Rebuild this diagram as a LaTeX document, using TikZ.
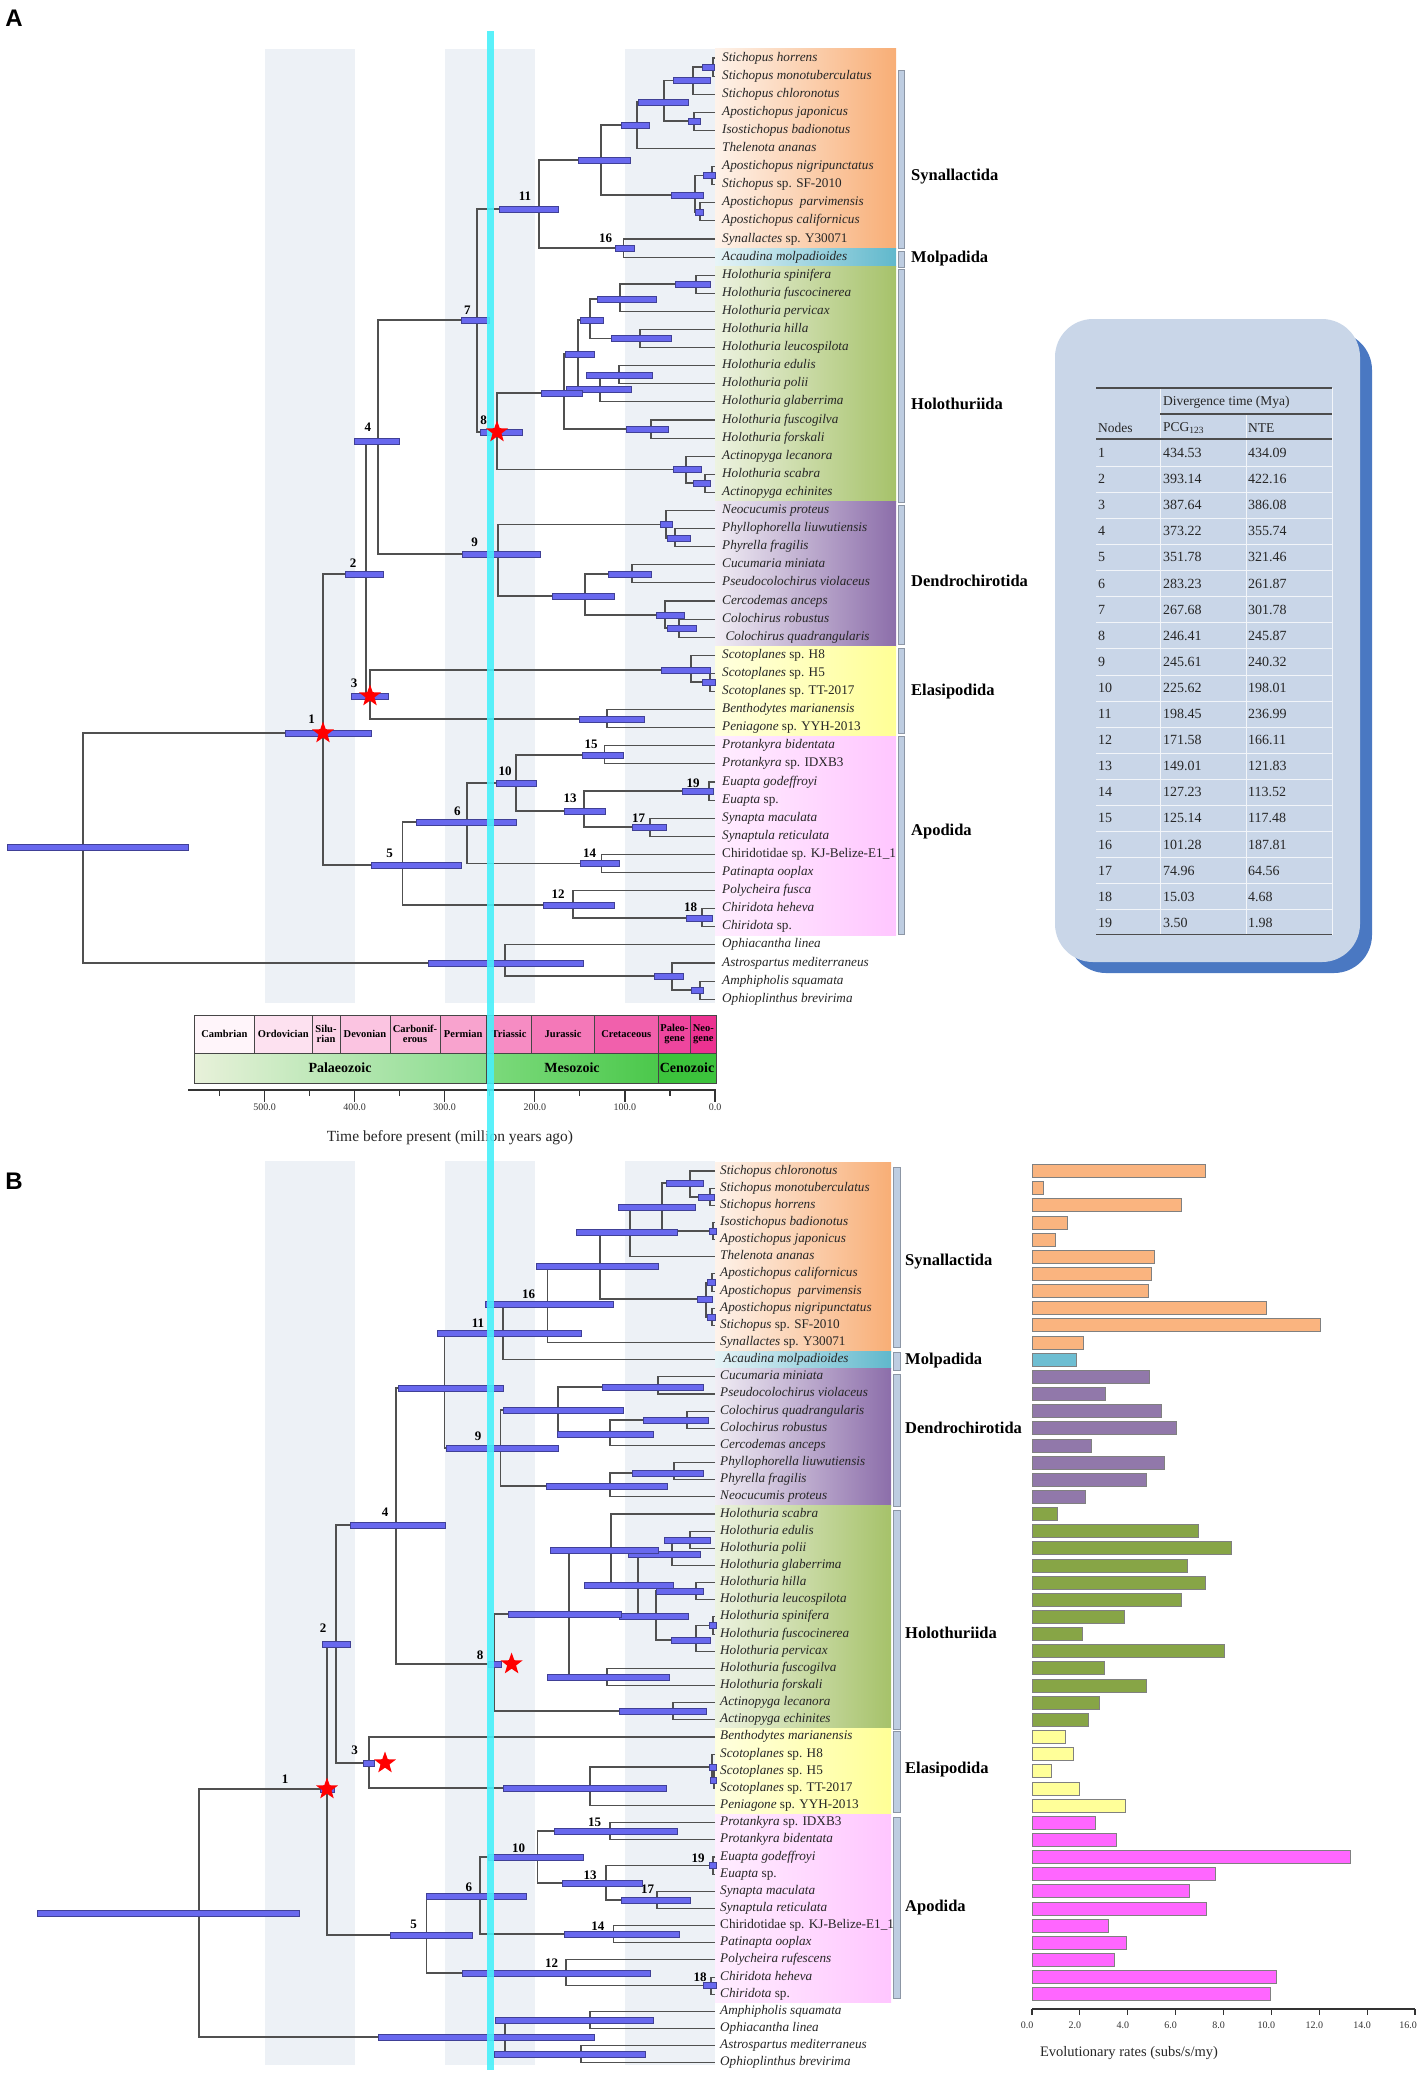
\documentclass[tikz,border=0pt]{standalone}
\usepackage{fontspec}
\setmainfont{Liberation Serif}
\newfontfamily\panelfont{Liberation Sans}
\usetikzlibrary{shapes.geometric}

\definecolor{treegray}{RGB}{80,80,80}
\definecolor{hpdblue}{RGB}{104,104,238}
\definecolor{hpdedge}{RGB}{64,64,150}
\definecolor{bandgray}{RGB}{237,241,246}
\definecolor{cyanline}{RGB}{72,240,250}
\definecolor{synC}{RGB}{248,174,118}
\definecolor{molC}{RGB}{96,184,204}
\definecolor{holC}{RGB}{166,194,106}
\definecolor{denC}{RGB}{140,110,170}
\definecolor{elaC}{RGB}{255,255,150}
\definecolor{apoC}{RGB}{255,198,255}
\definecolor{synbar}{RGB}{250,180,127}
\definecolor{molbar}{RGB}{110,190,210}
\definecolor{denbar}{RGB}{145,120,170}
\definecolor{holbar}{RGB}{135,165,70}
\definecolor{elabar}{RGB}{255,255,153}
\definecolor{apobar}{RGB}{255,102,255}
\definecolor{rateedge}{RGB}{128,128,128}
\definecolor{cladebarfill}{RGB}{190,205,225}
\definecolor{cladebaredge}{RGB}{140,150,165}
\definecolor{boxblue}{RGB}{201,214,232}
\definecolor{shadowblue}{RGB}{74,120,194}
\definecolor{cellborder}{RGB}{70,70,70}
\definecolor{per1}{RGB}{255,245,250}
\definecolor{per2}{RGB}{253,225,240}
\definecolor{per3}{RGB}{252,212,232}
\definecolor{per4}{RGB}{251,196,225}
\definecolor{per5}{RGB}{250,182,217}
\definecolor{per6}{RGB}{248,163,206}
\definecolor{per7}{RGB}{246,140,195}
\definecolor{per8}{RGB}{244,120,184}
\definecolor{per9}{RGB}{241,96,172}
\definecolor{per10}{RGB}{238,70,158}
\definecolor{per11}{RGB}{236,50,145}
\definecolor{paleoL}{RGB}{232,241,218}
\definecolor{paleoR}{RGB}{135,220,140}
\definecolor{mesoL}{RGB}{125,218,125}
\definecolor{mesoR}{RGB}{75,200,75}
\definecolor{cenoC}{RGB}{60,195,60}

\pgfdeclarelayer{bars}
\pgfdeclarelayer{front}
\pgfsetlayers{main,bars,front}

% name, x, y, first child, second child, HPD from, HPD to
\newcommand{\clade}[7]{%
  \coordinate (#1) at (#2,#3);
  \draw[branch] (#4) -| (#1) |- (#5);
  \begin{pgfonlayer}{bars}
    \draw[hpd] (#6,#3-3) rectangle (#7,#3+3);
  \end{pgfonlayer}
}

\begin{document}
\begin{tikzpicture}[x=1pt, y=-1pt,
    branch/.style={draw=treegray, line width=1.1},
    hpd/.style={fill=hpdblue, draw=hpdedge, line width=0.5},
    tipname/.style={anchor=west, inner sep=0, text height=9, text depth=3, text=black!85, font=\fontsize{13.2}{14}\selectfont},
    nodelab/.style={inner sep=0, font=\bfseries\fontsize{13}{14}\selectfont},
    cladename/.style={anchor=west, inner sep=0, font=\bfseries\fontsize{16.5}{18}\selectfont},
    cladebar/.style={fill=cladebarfill, draw=cladebaredge, line width=0.6},
    band/.style={fill=bandgray, draw=none},
    redstar/.style={star, star points=5, star point ratio=2.45, fill=red, draw=none, minimum size=23, inner sep=0},
    cell/.style={draw=cellborder, line width=0.8},
    perlab/.style={inner sep=0, align=center, font=\bfseries\fontsize{10.5}{10.5}\selectfont},
    eralab/.style={inner sep=0, font=\bfseries\fontsize{14}{15}\selectfont},
    axisline/.style={draw=black!80, line width=1.2},
    ticklab/.style={inner sep=0, font=\fontsize{10}{11}\selectfont, text=black!80},
    rate/.style={draw=rateedge, line width=0.8},
    rule/.style={draw=black!70, line width=1.1},
    faint/.style={draw=white!75!boxblue, line width=0.6},
    tcell/.style={anchor=west, inner sep=0, font=\fontsize{14}{15}\selectfont, text=black!85},
  ]
\useasboundingbox (0,0) rectangle (1418,2081);

% panel letters
\node[inner sep=0, font=\panelfont\bfseries\fontsize{24}{26}\selectfont] (letA) at (14,18) {A};
\node[inner sep=0, font=\panelfont\bfseries\fontsize{24}{26}\selectfont] (letB) at (14,1181) {B};

% time bands
\foreach \xa/\xb in {264.6/354.6, 444.6/534.6, 624.6/715} {
  \fill[band] (\xa,49) rectangle (\xb,1003);
  \fill[band] (\xa,1161) rectangle (\xb,2065);
}

% clade colours, panel A
\shade[left color=synC!15!white, right color=synC] (715,{58+18.1*(-0.5)}) rectangle (896,{58+18.1*10.5});
\shade[left color=molC!15!white, right color=molC] (715,{58+18.1*10.5}) rectangle (896,{58+18.1*11.5});
\shade[left color=holC!20!white, right color=holC] (715,{58+18.1*11.5}) rectangle (896,{58+18.1*24.5});
\shade[left color=denC!12!white, right color=denC] (715,{58+18.1*24.5}) rectangle (896,{58+18.1*32.5});
\shade[left color=elaC!30!white, right color=elaC] (715,{58+18.1*32.5}) rectangle (896,{58+18.1*37.5});
\shade[left color=apoC!30!white, right color=apoC] (715,{58+18.1*37.5}) rectangle (896,{58+18.1*48.5});

% clade colours, panel B
\shade[left color=synC!15!white, right color=synC] (715,{1171+17.15*(-0.5)}) rectangle (891,{1171+17.15*10.5});
\shade[left color=molC!15!white, right color=molC] (715,{1171+17.15*10.5}) rectangle (891,{1171+17.15*11.5});
\shade[left color=denC!12!white, right color=denC] (715,{1171+17.15*11.5}) rectangle (891,{1171+17.15*19.5});
\shade[left color=holC!20!white, right color=holC] (715,{1171+17.15*19.5}) rectangle (891,{1171+17.15*32.5});
\shade[left color=elaC!30!white, right color=elaC] (715,{1171+17.15*32.5}) rectangle (891,{1171+17.15*37.5});
\shade[left color=apoC!30!white, right color=apoC] (715,{1171+17.15*37.5}) rectangle (891,{1171+17.15*48.5});

% tips, panel A
\foreach \sp [count=\i from 0] in {
  {\textit{Stichopus horrens}}, {\textit{Stichopus monotuberculatus}}, {\textit{Stichopus chloronotus}},
  {\textit{Apostichopus japonicus}}, {\textit{Isostichopus badionotus}}, {\textit{Thelenota ananas}},
  {\textit{Apostichopus nigripunctatus}}, {\textit{Stichopus} sp. SF-2010}, {\textit{Apostichopus\ \ parvimensis}},
  {\textit{Apostichopus californicus}}, {\textit{Synallactes} sp. Y30071}, {\textit{Acaudina molpadioides}},
  {\textit{Holothuria spinifera}}, {\textit{Holothuria fuscocinerea}}, {\textit{Holothuria pervicax}},
  {\textit{Holothuria hilla}}, {\textit{Holothuria leucospilota}}, {\textit{Holothuria edulis}},
  {\textit{Holothuria polii}}, {\textit{Holothuria glaberrima}}, {\textit{Holothuria fuscogilva}},
  {\textit{Holothuria forskali}}, {\textit{Actinopyga lecanora}}, {\textit{Holothuria scabra}},
  {\textit{Actinopyga echinites}}, {\textit{Neocucumis proteus}}, {\textit{Phyllophorella liuwutiensis}},
  {\textit{Phyrella fragilis}}, {\textit{Cucumaria miniata}}, {\textit{Pseudocolochirus violaceus}},
  {\textit{Cercodemas anceps}}, {\textit{Colochirus robustus}}, {\ \textit{Colochirus quadrangularis}},
  {\textit{Scotoplanes} sp. H8}, {\textit{Scotoplanes} sp. H5}, {\textit{Scotoplanes} sp. TT-2017},
  {\textit{Benthodytes marianensis}}, {\textit{Peniagone} sp. YYH-2013}, {\textit{Protankyra bidentata}},
  {\textit{Protankyra} sp. IDXB3}, {\textit{Euapta godeffroyi}}, {\textit{Euapta} sp.},
  {\textit{Synapta maculata}}, {\textit{Synaptula reticulata}}, {Chiridotidae sp. KJ-Belize-E1\_1},
  {\textit{Patinapta ooplax}}, {\textit{Polycheira fusca}}, {\textit{Chiridota heheva}},
  {\textit{Chiridota} sp.}, {\textit{Ophiacantha linea}}, {\textit{Astrospartus mediterraneus}},
  {\textit{Amphipholis squamata}}, {\textit{Ophioplinthus brevirima}}} {
  \coordinate (lfa\i) at (715,{58+18.1*\i});
  \node[tipname] (txa\i) at (722,{58+18.1*\i}) {\sp};
}

% tips, panel B
\foreach \sp [count=\i from 0] in {
  {\textit{Stichopus chloronotus}}, {\textit{Stichopus monotuberculatus}}, {\textit{Stichopus horrens}},
  {\textit{Isostichopus badionotus}}, {\textit{Apostichopus japonicus}}, {\textit{Thelenota ananas}},
  {\textit{Apostichopus californicus}}, {\textit{Apostichopus\ \ parvimensis}}, {\textit{Apostichopus nigripunctatus}},
  {\textit{Stichopus} sp. SF-2010}, {\textit{Synallactes} sp. Y30071}, {\ \textit{Acaudina molpadioides}},
  {\textit{Cucumaria miniata}}, {\textit{Pseudocolochirus violaceus}}, {\textit{Colochirus quadrangularis}},
  {\textit{Colochirus robustus}}, {\textit{Cercodemas anceps}}, {\textit{Phyllophorella liuwutiensis}},
  {\textit{Phyrella fragilis}}, {\textit{Neocucumis proteus}}, {\textit{Holothuria scabra}},
  {\textit{Holothuria edulis}}, {\textit{Holothuria polii}}, {\textit{Holothuria glaberrima}},
  {\textit{Holothuria hilla}}, {\textit{Holothuria leucospilota}}, {\textit{Holothuria spinifera}},
  {\textit{Holothuria fuscocinerea}}, {\textit{Holothuria pervicax}}, {\textit{Holothuria fuscogilva}},
  {\textit{Holothuria forskali}}, {\textit{Actinopyga lecanora}}, {\textit{Actinopyga echinites}},
  {\textit{Benthodytes marianensis}}, {\textit{Scotoplanes} sp. H8}, {\textit{Scotoplanes} sp. H5},
  {\textit{Scotoplanes} sp. TT-2017}, {\textit{Peniagone} sp. YYH-2013}, {\textit{Protankyra} sp. IDXB3},
  {\textit{Protankyra bidentata}}, {\textit{Euapta godeffroyi}}, {\textit{Euapta} sp.},
  {\textit{Synapta maculata}}, {\textit{Synaptula reticulata}}, {Chiridotidae sp. KJ-Belize-E1\_1},
  {\textit{Patinapta ooplax}}, {\textit{Polycheira rufescens}}, {\textit{Chiridota heheva}},
  {\textit{Chiridota} sp.}, {\textit{Amphipholis squamata}}, {\textit{Ophiacantha linea}},
  {\textit{Astrospartus mediterraneus}}, {\textit{Ophioplinthus brevirima}}} {
  \coordinate (lfb\i) at (715,{1171+17.15*\i});
  \node[tipname] (txb\i) at (720,{1171+17.15*\i}) {\sp};
}

% ---- tree A ----
% Synallactida + Molpadida
\clade{syA4a}{713}{67}{lfa0}{lfa1}{702}{714}
\clade{syA4}{693}{80.5}{syA4a}{lfa2}{673}{710}
\clade{syA5}{694}{121}{lfa3}{lfa4}{688}{700}
\clade{syA3}{664}{102}{syA4}{syA5}{638}{688}
\clade{syA2}{637}{125}{syA3}{lfa5}{621}{649}
\clade{syA7}{712}{175.6}{lfa6}{lfa7}{703}{715}
\clade{syA8}{700}{212}{lfa8}{lfa9}{695}{703}
\clade{syA6}{695}{195}{syA7}{syA8}{671}{703}
\clade{syA1}{601}{160}{syA2}{syA6}{578}{630}
\clade{nA16}{623.6}{248}{lfa10}{lfa11}{615}{634}
\clade{nA11}{539}{209}{syA1}{nA16}{499}{558}
% Holothuriida
\clade{hoA8}{696}{284}{lfa12}{lfa13}{675}{710}
\clade{hoA7}{620}{299}{hoA8}{lfa14}{597}{656}
\clade{hoA6}{640}{338.5}{lfa15}{lfa16}{611}{671}
\clade{hoA5}{590}{320}{hoA7}{hoA6}{580}{603}
\clade{hoA10}{619}{375}{lfa17}{lfa18}{586}{652}
\clade{hoA9}{600}{389}{hoA10}{lfa19}{566}{631}
\clade{hoA4}{578}{354}{hoA5}{hoA9}{565}{594}
\clade{hoA3}{651}{429}{lfa20}{lfa21}{626}{668}
\clade{hoA2}{564}{393}{hoA4}{hoA3}{541}{582}
\clade{hoA12}{705}{483}{lfa23}{lfa24}{693}{710}
\clade{hoA11}{686}{469.5}{lfa22}{hoA12}{673}{701}
\clade{nA8}{497}{432}{hoA2}{hoA11}{480}{522}
\clade{nA7}{477}{320}{nA11}{nA8}{461}{489}
% Dendrochirotida
\clade{deA2}{675}{538}{lfa26}{lfa27}{667}{690}
\clade{deA1}{666}{524.5}{lfa25}{deA2}{660}{672}
\clade{deA4}{632}{574}{lfa28}{lfa29}{608}{651}
\clade{deA6}{679}{628}{lfa31}{lfa32}{667}{696}
\clade{deA5}{665}{615}{lfa30}{deA6}{656}{684}
\clade{deA3}{585}{596}{deA4}{deA5}{552}{614}
\clade{nA9}{498}{554}{deA1}{deA3}{462}{540}
\clade{nA4}{378}{441}{nA7}{nA9}{354}{399}
% Elasipodida
\clade{elA2}{710}{682}{lfa34}{lfa35}{702}{715}
\clade{elA1}{691}{670}{lfa33}{elA2}{661}{710}
\clade{elA3}{607}{719}{lfa36}{lfa37}{579}{644}
\clade{nA3}{370}{696}{elA1}{elA3}{351}{388}
\clade{nA2}{366}{574}{nA4}{nA3}{345}{383}
% Apodida
\clade{nA15}{604.6}{755}{lfa38}{lfa39}{582}{623}
\clade{nA19}{709}{791}{lfa40}{lfa41}{682}{713}
\clade{nA17}{650}{827}{lfa42}{lfa43}{632}{666}
\clade{nA13}{584}{811}{nA19}{nA17}{564}{605}
\clade{nA10}{516}{783}{nA15}{nA13}{496}{536}
\clade{nA14}{601.5}{863.5}{lfa44}{lfa45}{580}{619}
\clade{nA6}{467}{822}{nA10}{nA14}{416}{516}
\clade{nA18}{702}{918}{lfa47}{lfa48}{686}{712}
\clade{nA12}{573}{905}{lfa46}{nA18}{543}{614}
\clade{nA5}{402.6}{865}{nA6}{nA12}{371}{461}
\clade{nA1}{323}{733}{nA2}{nA5}{285}{371}
% outgroup
\clade{ogA3}{700}{990}{lfa51}{lfa52}{691}{703}
\clade{ogA2}{672}{976}{lfa50}{ogA3}{654}{683}
\clade{ogA1}{505}{963}{lfa49}{ogA2}{428}{583}
\clade{rootA}{83}{847}{nA1}{ogA1}{7}{188}

% ---- tree B ----
% Synallactida + Molpadida
\clade{syB5}{710}{1197}{lfb1}{lfb2}{698}{714}
\clade{syB4}{690}{1183}{lfb0}{syB5}{666}{703}
\clade{syB6}{713}{1231}{lfb3}{lfb4}{709}{716}
\clade{syB3}{662}{1207}{syB4}{syB6}{618}{695}
\clade{syB2}{630}{1232}{syB3}{lfb5}{576}{677}
\clade{syB8}{712}{1282.5}{lfb6}{lfb7}{707}{715}
\clade{syB9}{712}{1317}{lfb8}{lfb9}{707}{715}
\clade{syB7}{706}{1299}{syB8}{syB9}{697}{712}
\clade{syB1}{600}{1266}{syB2}{syB7}{536}{658}
\clade{nB16}{547.6}{1304}{syB1}{lfb10}{485}{613}
\clade{nB11}{503}{1333}{nB16}{lfb11}{437}{581}
% Dendrochirotida
\clade{deB2}{658}{1387}{lfb12}{lfb13}{602}{703}
\clade{deB4}{687}{1420}{lfb14}{lfb15}{643}{708}
\clade{deB3}{610}{1434}{deB4}{lfb16}{557}{653}
\clade{deB1}{558}{1410}{deB2}{deB3}{503}{623}
\clade{deB6}{674}{1473}{lfb17}{lfb18}{632}{703}
\clade{deB5}{610}{1486}{deB6}{lfb19}{546}{667}
\clade{nB9}{500.5}{1448}{deB1}{deB5}{446}{558}
\clade{nB7}{444.7}{1388}{nB11}{nB9}{398}{503}
% Holothuriida
\clade{hoB7}{690}{1540}{lfb21}{lfb22}{664}{710}
\clade{hoB6}{672}{1554}{hoB7}{lfb23}{628}{700}
\clade{hoB9}{696}{1591}{lfb24}{lfb25}{656}{703}
\clade{hoB11}{713}{1625.5}{lfb26}{lfb27}{709}{716}
\clade{hoB10}{696}{1640}{hoB11}{lfb28}{671}{710}
\clade{hoB8}{656}{1616}{hoB9}{hoB10}{619}{688}
\clade{hoB5}{638}{1585}{hoB6}{hoB8}{584}{673}
\clade{hoB4}{611}{1550}{lfb20}{hoB5}{550}{658}
\clade{hoB3}{607}{1677}{lfb29}{lfb30}{547}{669}
\clade{hoB2}{569}{1614}{hoB4}{hoB3}{508}{621}
\clade{hoB1}{673}{1711}{lfb31}{lfb32}{619}{706}
\clade{nB8}{494.6}{1664}{hoB2}{hoB1}{488}{501}
\clade{nB4}{396}{1525}{nB7}{nB8}{350}{445}
% Elasipodida
\clade{elB3}{714}{1780}{lfb35}{lfb36}{710}{716}
\clade{elB2}{712}{1767}{lfb34}{elB3}{709}{716}
\clade{elB1}{590}{1788}{elB2}{lfb37}{503}{666}
\clade{nB3}{369}{1763}{lfb33}{elB1}{363}{374}
\clade{nB2}{336}{1644}{nB4}{nB3}{322}{350}
% Apodida
\clade{nB15}{610}{1831}{lfb38}{lfb39}{554}{677}
\clade{nB19}{713}{1865.6}{lfb40}{lfb41}{709}{716}
\clade{nB17}{657}{1900}{lfb42}{lfb43}{621}{690}
\clade{nB13}{606}{1883}{nB19}{nB17}{562}{642}
\clade{nB10}{537.6}{1857}{nB15}{nB13}{488}{583}
\clade{nB14}{613.7}{1934}{lfb44}{lfb45}{564}{679}
\clade{nB6}{480}{1896}{nB10}{nB14}{426}{526}
\clade{nB18}{711}{1985.6}{lfb47}{lfb48}{703}{716}
\clade{nB12}{566}{1973}{lfb46}{nB18}{462}{650}
\clade{nB5}{426.6}{1935}{nB6}{nB12}{390}{472}
\clade{nB1}{327}{1789}{nB2}{nB5}{320}{334}
% outgroup
\clade{ogB2}{590}{2020}{lfb49}{lfb50}{495}{653}
\clade{ogB3}{581}{2054}{lfb51}{lfb52}{494}{645}
\clade{ogB1}{505}{2037}{ogB2}{ogB3}{378}{594}
\clade{rootB}{199}{1913}{nB1}{ogB1}{37}{299}

% node numbers
\foreach \lab/\lx/\ly in {11/525/196, 16/605.5/238, 7/467.4/310, 4/367.8/427, 8/483.7/420,
    9/474.6/542, 2/353/563, 3/354/683, 1/311.6/719, 15/591/744, 10/505/771, 19/693/783,
    13/570/798, 17/638.6/818, 6/457.4/811, 14/589.7/853, 5/389.5/853, 12/558/894, 18/690.7/907}
  \node[nodelab] (labA\lab) at (\lx,\ly) {\lab};
\foreach \lab/\lx/\ly in {16/528.5/1294, 11/478/1323, 9/478/1436, 4/385/1512, 2/323/1628,
    8/480/1655, 3/354.6/1750, 1/285/1779, 15/594.7/1822, 10/518.6/1848, 19/698/1858,
    13/590/1875, 17/647.6/1889, 6/468.8/1887, 14/597.8/1926, 5/413.5/1924, 12/551.6/1963, 18/700/1977}
  \node[nodelab] (labB\lab) at (\lx,\ly) {\lab};

% clade brackets and names
\foreach \ya/\yb [count=\k] in {70/248, 251/267, 269/502, 505/644, 648/733, 736/934}
  \draw[cladebar] (898,\ya) rectangle (904,\yb);
\foreach \ya/\yb [count=\k] in {1167/1347, 1352/1370, 1374/1506, 1510/1729, 1731/1812, 1817/1998}
  \draw[cladebar] (893,\ya) rectangle (900,\yb);
\foreach \cn/\cy in {Synallactida/177, Molpadida/259, Holothuriida/404, Dendrochirotida/581, Elasipodida/692, Apodida/832}
  \node[cladename] (cA\cn) at (911,\cy) {\cn};
\foreach \cn/\cy in {Synallactida/1262, Molpadida/1361, Dendrochirotida/1428, Holothuriida/1633, Elasipodida/1770, Apodida/1908}
  \node[cladename] (cB\cn) at (905,\cy) {\cn};

% geological time scale
\foreach \xa/\xb/\per/\col [count=\k] in {194/254.6/Cambrian/per1, 254.6/312/Ordovician/per2,
    312/340/{Silu-\\rian}/per3, 340/390/Devonian/per4, 390/440/{Carbonif-\\erous}/per5,
    440/486.4/Permian/per6, 486.4/531.8/Triassic/per7, 531.8/594.3/Jurassic/per8,
    594.3/658.2/Cretaceous/per9, 658.2/690.7/{Paleo-\\gene}/per10, 690.7/716/{Neo-\\gene}/per11} {
  \draw[cell, fill=\col] (\xa,1015) rectangle (\xb,1053);
  \node[perlab] (per\k) at ({(\xa+\xb)/2},1034) {\per};
}
\shade[left color=paleoL, right color=paleoR] (194,1053) rectangle (486.4,1083);
\shade[left color=mesoL, right color=mesoR] (486.4,1053) rectangle (658.2,1083);
\fill[cenoC] (658.2,1053) rectangle (716,1083);
\draw[cell] (194,1053) rectangle (486.4,1083) (486.4,1053) rectangle (658.2,1083) (658.2,1053) rectangle (716,1083);
\node[eralab] (era1) at (340,1068) {Palaeozoic};
\node[eralab] (era2) at (572,1068) {Mesozoic};
\node[eralab] (era3) at (687,1068) {Cenozoic};

% time axis
\draw[axisline] (188,1090) -- (716,1090);
\foreach \t in {0,100,...,500} {
  \draw[axisline] ({715-0.901*\t},1090) -- ++(0,12);
  \node[ticklab] (tk\t) at ({715-0.901*\t},1107) {\t.0};
}
\foreach \t in {50,150,...,550}
  \draw[axisline] ({715-0.901*\t},1090) -- ++(0,6);
\node[inner sep=0, font=\fontsize{15.5}{17}\selectfont, text=black!85] (timetitle) at (450,1138) {Time before present (million years ago)};

% divergence time table
\fill[shadowblue, rounded corners=38] (1068,332) rectangle (1372,973);
\fill[boxblue, rounded corners=38] (1055,319) rectangle (1360,962);
\foreach \k in {0,...,17}
  \draw[faint] (1096,{466+26.1*\k}) -- (1332,{466+26.1*\k});
\draw[faint] (1160,414) -- (1160,934.5) (1246,414) -- (1246,934.5) (1332,388) -- (1332,934.5) (1160,388) -- (1160,414);
\draw[rule] (1096,388) -- (1332,388);
\draw[rule] (1160,414) -- (1332,414);
\draw[rule] (1096,439) -- (1332,439);
\draw[rule] (1096,934.5) -- (1332,934.5);
\node[tcell, font=\fontsize{13.5}{15}\selectfont] (thdiv) at (1163,402) {Divergence time (Mya)};
\node[tcell, font=\fontsize{13.5}{15}\selectfont] (thnode) at (1098,428) {Nodes};
\node[tcell, font=\fontsize{13.5}{15}\selectfont] (thpcg) at (1163,428) {PCG\textsubscript{123}};
\node[tcell, font=\fontsize{13.5}{15}\selectfont] (thnte) at (1248,428) {NTE};
\foreach \n/\p/\q [count=\r from 0] in {1/434.53/434.09, 2/393.14/422.16, 3/387.64/386.08,
    4/373.22/355.74, 5/351.78/321.46, 6/283.23/261.87, 7/267.68/301.78, 8/246.41/245.87,
    9/245.61/240.32, 10/225.62/198.01, 11/198.45/236.99, 12/171.58/166.11, 13/149.01/121.83,
    14/127.23/113.52, 15/125.14/117.48, 16/101.28/187.81, 17/74.96/64.56, 18/15.03/4.68, 19/3.50/1.98} {
  \node[tcell] (tn\n) at (1098,{453+26.1*\r}) {\n};
  \node[tcell] (tp\n) at (1163,{453+26.1*\r}) {\p};
  \node[tcell] (tq\n) at (1248,{453+26.1*\r}) {\q};
}

% evolutionary rates
\foreach \v [count=\i from 0] in {7.23,0.49,6.25,1.49,0.99,5.11,4.97,4.85,9.80,12.06,2.14}
  \draw[rate, fill=synbar] (1032,{1171+17.15*\i-6.5}) rectangle ({1032+23.94*\v},{1171+17.15*\i+6.5});
\foreach \v [count=\i from 11] in {1.84}
  \draw[rate, fill=molbar] (1032,{1171+17.15*\i-6.5}) rectangle ({1032+23.94*\v},{1171+17.15*\i+6.5});
\foreach \v [count=\i from 12] in {4.89,3.05,5.42,6.03,2.49,5.53,4.76,2.23}
  \draw[rate, fill=denbar] (1032,{1171+17.15*\i-6.5}) rectangle ({1032+23.94*\v},{1171+17.15*\i+6.5});
\foreach \v [count=\i from 20] in {1.06,6.95,8.31,6.47,7.25,6.22,3.84,2.09,8.02,3.04,4.76,2.80,2.37}
  \draw[rate, fill=holbar] (1032,{1171+17.15*\i-6.5}) rectangle ({1032+23.94*\v},{1171+17.15*\i+6.5});
\foreach \v [count=\i from 33] in {1.39,1.74,0.81,1.99,3.90}
  \draw[rate, fill=elabar] (1032,{1171+17.15*\i-6.5}) rectangle ({1032+23.94*\v},{1171+17.15*\i+6.5});
\foreach \v [count=\i from 38] in {2.66,3.54,13.31,7.67,6.57,7.28,3.20,3.93,3.45,10.19,9.94}
  \draw[rate, fill=apobar] (1032,{1171+17.15*\i-6.5}) rectangle ({1032+23.94*\v},{1171+17.15*\i+6.5});
\draw[axisline] (1032,2009) -- (1415,2009);
\foreach \v in {0,2,...,16}
  \draw[axisline] ({1032+23.94*\v},2009) -- ++(0,6);
\foreach \v in {0,2,...,14}
  \node[ticklab] (rk\v) at ({1027+23.94*\v},2025) {\v.0};
\node[ticklab, anchor=east] (rk16) at (1417,2025) {16.0};
\node[inner sep=0, font=\fontsize{14.5}{16}\selectfont, text=black!85] (ratetitle) at (1129,2053) {Evolutionary rates (subs/s/my)};

% extinction line and calibration stars
\begin{pgfonlayer}{front}
  \draw[cyanline, line width=7, opacity=0.9] (490,31) -- (490,2070);
  \node[redstar] (stA1) at (nA1) {};
  \node[redstar] (stA3) at (nA3) {};
  \node[redstar] (stA8) at (nA8) {};
  \node[redstar] (stB1) at (nB1) {};
  \node[redstar] (stB3) at ([xshift=16]nB3) {};
  \node[redstar] (stB8) at ([xshift=17]nB8) {};
\end{pgfonlayer}
\end{tikzpicture}
\end{document}
